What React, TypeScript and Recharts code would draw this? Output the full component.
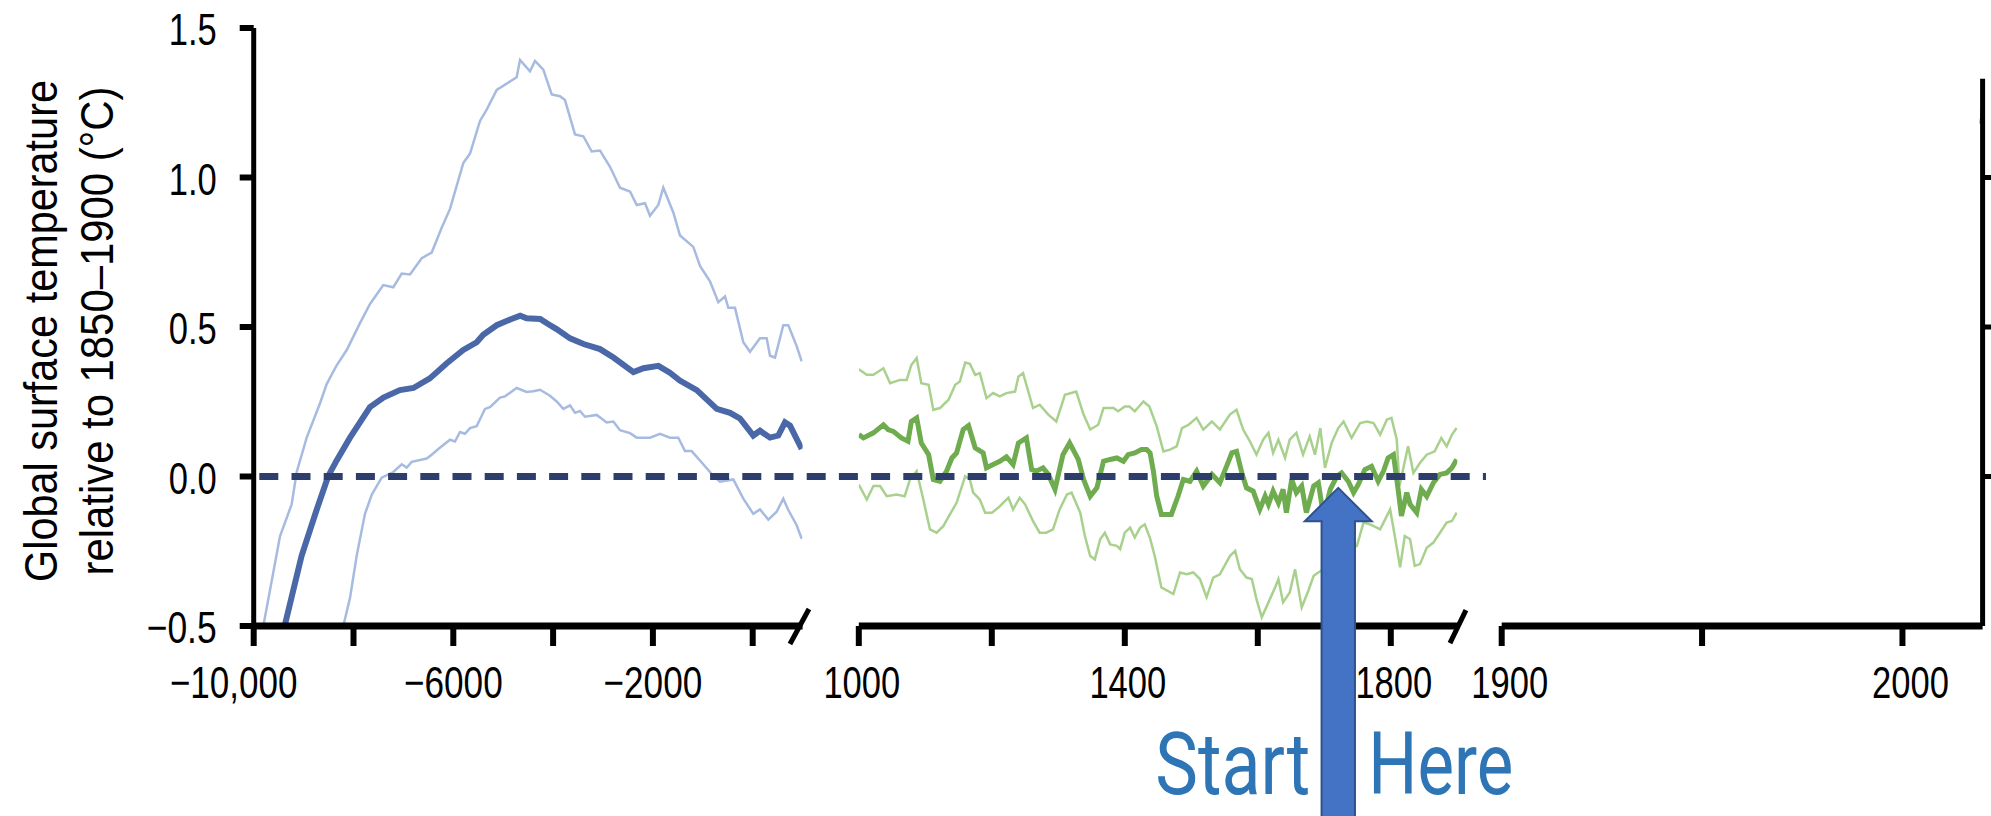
import React from 'react';
import { LineChart, Line, XAxis, YAxis, ReferenceLine, ReferenceDot } from 'recharts';

// Holocene reconstruction (blue): central estimate and 5-95% range
const holoceneMeanYears = [
  -9380, -9040, -8740, -8505, -8340, -8070, -7670, -7400, -7070, -6800, -6470, -6130, -5800, -5530,
  -5400, -5130, -4860, -4660, -4530, -4260, -4060, -3930, -3660, -3390, -3060, -2790, -2390, -2190,
  -1890, -1660, -1460, -1120, -720, -455, -255, 12, 146, 347, 513, 647, 748, 982,
];
const holoceneMean = [
  -0.5, -0.265, -0.112, 0.002, 0.053, 0.13, 0.232, 0.264, 0.289, 0.296, 0.328, 0.379, 0.423, 0.449,
  0.474, 0.506, 0.525, 0.538, 0.529, 0.527, 0.506, 0.493, 0.462, 0.443, 0.426, 0.398, 0.349, 0.362,
  0.37, 0.347, 0.321, 0.289, 0.226, 0.213, 0.194, 0.137, 0.153, 0.13, 0.137, 0.181, 0.17, 0.092,
];

const holoceneUpperYears = [
  -9807, -9473, -9239, -9138, -8938, -8671, -8537, -8337, -8136, -7870, -7669, -7403, -7202, -7034,
  -6868, -6633, -6433, -6233, -6066, -5800, -5665, -5465, -5331, -5130, -4730, -4663, -4463, -4363,
  -4196, -4028, -3862, -3762, -3561, -3394, -3227, -3060, -2860, -2659, -2459, -2325, -2158, -2058,
  -1892, -1792, -1591, -1457, -1190, -1056, -856, -689, -555, -489, -355, -188, -54, 146, 280, 347,
  447, 613, 714, 881, 982,
];
const holoceneUpper = [
  -0.5, -0.2, -0.093, 0.015, 0.13, 0.245, 0.309, 0.372, 0.423, 0.513, 0.577, 0.64, 0.633, 0.679,
  0.676, 0.73, 0.749, 0.832, 0.895, 1.048, 1.08, 1.189, 1.227, 1.293, 1.335, 1.393, 1.355, 1.39,
  1.361, 1.278, 1.272, 1.259, 1.144, 1.138, 1.087, 1.09, 1.036, 0.966, 0.953, 0.908, 0.914, 0.872,
  0.908, 0.966, 0.883, 0.806, 0.768, 0.704, 0.653, 0.583, 0.602, 0.564, 0.564, 0.449, 0.417, 0.462,
  0.462, 0.404, 0.398, 0.506, 0.506, 0.436, 0.385,
];

const holoceneLowerYears = [
  -8204, -8070, -7936, -7770, -7635, -7435, -7202, -7034, -6934, -6834, -6533, -6433, -6300, -6066,
  -5966, -5866, -5766, -5665, -5533, -5365, -5265, -5064, -4963, -4730, -4530, -4396, -4262, -4062,
  -3928, -3795, -3661, -3561, -3461, -3361, -3126, -2926, -2793, -2659, -2459, -2325, -2058, -1858,
  -1658, -1491, -1357, -1224, -991, -790, -656, -389, -188, 12, 146, 313, 480, 613, 714, 881, 982,
];
const holoceneLower = [
  -0.5, -0.406, -0.265, -0.125, -0.061, -0.004, 0.015, 0.041, 0.03, 0.049, 0.06, 0.073, 0.092, 0.123,
  0.117, 0.149, 0.143, 0.162, 0.168, 0.226, 0.232, 0.264, 0.268, 0.296, 0.283, 0.285, 0.29, 0.27,
  0.251, 0.226, 0.238, 0.213, 0.219, 0.2, 0.206, 0.181, 0.184, 0.155, 0.145, 0.13, 0.13, 0.143,
  0.13, 0.13, 0.085, 0.085, 0.041, 0.002, -0.017, -0.01, -0.074, -0.125, -0.11, -0.144, -0.118,
  -0.074, -0.112, -0.163, -0.208,
];

// Last millennium reconstruction (green), 1000–1900
const millenniumMeanYears = [
  1000, 1007, 1022, 1037, 1044, 1052, 1064, 1074, 1079, 1087, 1094, 1105, 1112, 1122, 1132, 1140,
  1147, 1157, 1165, 1175, 1187, 1192, 1202, 1212, 1222, 1232, 1240, 1252, 1260, 1267, 1277, 1285,
  1295, 1307, 1317, 1330, 1338, 1348, 1358, 1368, 1378, 1388, 1398, 1405, 1415, 1425, 1433, 1438,
  1443, 1448, 1455, 1470, 1480, 1488, 1498, 1508, 1518, 1531, 1543, 1553, 1561, 1568, 1576, 1583,
  1593, 1603, 1611, 1616, 1623, 1631, 1638, 1643, 1651, 1658, 1666, 1673, 1684, 1691, 1699, 1709,
  1719, 1726, 1736, 1744, 1751, 1761, 1771, 1781, 1789, 1796, 1804, 1811, 1816, 1824, 1829, 1839,
  1846, 1854, 1864, 1874, 1884, 1892, 1899,
];
const millenniumMean = [
  0.14, 0.129, 0.146, 0.173, 0.157, 0.151, 0.129, 0.118, 0.184, 0.196, 0.112, 0.073, -0.01, -0.016,
  0.018, 0.062, 0.079, 0.157, 0.17, 0.096, 0.079, 0.029, 0.04, 0.051, 0.066, 0.04, 0.112, 0.129,
  0.023, 0.018, 0.029, 0.007, -0.043, 0.073, 0.112, 0.057, -0.01, -0.066, -0.038, 0.051, 0.057,
  0.062, 0.051, 0.073, 0.079, 0.09, 0.09, 0.079, 0.018, -0.066, -0.127, -0.127, -0.066, -0.01,
  -0.016, 0.018, -0.032, 0.007, -0.021, 0.034, 0.079, 0.084, 0.012, -0.038, -0.049, -0.11, -0.066,
  -0.093, -0.049, -0.088, -0.043, -0.121, -0.01, -0.054, -0.032, -0.121, -0.032, -0.021, -0.132,
  -0.043, 0.001, 0.012, -0.016, -0.054, -0.027, 0.023, 0.034, -0.016, 0.018, 0.062, 0.073, -0.043,
  -0.132, -0.054, -0.093, -0.121, -0.043, -0.066, -0.021, 0.007, 0.012, 0.029, 0.057,
];

const millenniumUpperYears = [
  1000, 1012, 1022, 1037, 1047, 1062, 1072, 1079, 1087, 1094, 1105, 1112, 1122, 1135, 1145, 1152,
  1160, 1167, 1175, 1182, 1192, 1202, 1212, 1222, 1235, 1240, 1247, 1262, 1272, 1285, 1297, 1310,
  1327, 1338, 1348, 1360, 1368, 1383, 1390, 1400, 1407, 1415, 1428, 1437, 1448, 1458, 1468, 1478,
  1486, 1496, 1508, 1518, 1531, 1543, 1558, 1568, 1578, 1588, 1598, 1608, 1616, 1623, 1631, 1641,
  1648, 1658, 1668, 1678, 1686, 1694, 1701, 1711, 1721, 1729, 1741, 1754, 1764, 1774, 1784, 1794,
  1801, 1809, 1813, 1819, 1826, 1834, 1844, 1854, 1866, 1876, 1884, 1892, 1899,
];
const millenniumUpper = [
  0.359, 0.34, 0.34, 0.362, 0.312, 0.323, 0.323, 0.373, 0.396, 0.312, 0.307, 0.223, 0.229, 0.257,
  0.307, 0.318, 0.381, 0.377, 0.34, 0.346, 0.262, 0.279, 0.268, 0.279, 0.284, 0.334, 0.346, 0.229,
  0.24, 0.207, 0.184, 0.273, 0.284, 0.207, 0.157, 0.173, 0.229, 0.229, 0.218, 0.234, 0.234, 0.218,
  0.251, 0.234, 0.168, 0.084, 0.09, 0.101, 0.162, 0.173, 0.196, 0.157, 0.184, 0.157, 0.207, 0.223,
  0.157, 0.118, 0.073, 0.123, 0.146, 0.079, 0.123, 0.062, 0.123, 0.146, 0.073, 0.134, 0.073, 0.162,
  0.029, 0.112, 0.162, 0.184, 0.129, 0.179, 0.184, 0.179, 0.14, 0.19, 0.196, 0.123, -0.032, 0.029,
  0.101, 0.012, 0.046, 0.073, 0.084, 0.129, 0.101, 0.14, 0.162,
];

const millenniumLowerYears = [
  1000, 1012, 1022, 1032, 1042, 1057, 1069, 1077, 1087, 1097, 1107, 1117, 1127, 1137, 1147, 1160,
  1167, 1172, 1182, 1190, 1200, 1210, 1217, 1225, 1232, 1242, 1250, 1262, 1272, 1282, 1292, 1302,
  1313, 1320, 1333, 1340, 1348, 1355, 1363, 1370, 1378, 1388, 1393, 1400, 1408, 1415, 1423, 1430,
  1438, 1445, 1455, 1473, 1483, 1493, 1503, 1513, 1523, 1533, 1543, 1558, 1566, 1573, 1583, 1591,
  1598, 1606, 1616, 1626, 1631, 1638, 1648, 1656, 1666, 1676, 1684, 1691, 1699, 1720, 1735, 1749,
  1759, 1769, 1784, 1799, 1806, 1814, 1821, 1829, 1836, 1844, 1854, 1864, 1874, 1884, 1892, 1899,
];
const millenniumLower = [
  -0.027, -0.077, -0.032, -0.032, -0.066, -0.06, -0.066, -0.01, 0.018, -0.077, -0.177, -0.188,
  -0.166, -0.127, -0.088, 0.001, -0.01, -0.054, -0.077, -0.121, -0.121, -0.104, -0.088, -0.071,
  -0.11, -0.071, -0.093, -0.149, -0.188, -0.188, -0.177, -0.11, -0.06, -0.054, -0.121, -0.199,
  -0.266, -0.277, -0.21, -0.188, -0.227, -0.232, -0.243, -0.188, -0.171, -0.204, -0.171, -0.16,
  -0.207, -0.266, -0.371, -0.393, -0.321, -0.327, -0.321, -0.343, -0.404, -0.338, -0.327, -0.266,
  -0.249, -0.31, -0.338, -0.343, -0.41, -0.471, -0.421, -0.371, -0.343, -0.421, -0.388, -0.31,
  -0.438, -0.382, -0.332, -0.321, -0.31, -0.28, -0.25, -0.232, -0.154, -0.16, -0.177, -0.11, -0.199,
  -0.304, -0.199, -0.21, -0.299, -0.293, -0.238, -0.221, -0.188, -0.154, -0.149, -0.121,
];

// the only bit of the modern series visible at the right edge
const recentYears = [2019.6, 2020];
const recent = [1.18, 1.25];

const yTicks = [-0.5, 0, 0.5, 1.0, 1.5];
const yTickLabels: Record<string, string> = { '-0.5': '\u22120.5', '0': '0.0', '0.5': '0.5', '1': '1.0', '1.5': '1.5' };
const holoceneTicks = [-10000, -8000, -6000, -4000, -2000, 0];
const holoceneTickLabels: Record<string, string> = { '-10000': '\u221210,000', '-6000': '\u22126000', '-2000': '\u22122000' };
const millenniumTicks = [1000, 1200, 1400, 1600, 1800];
const millenniumTickLabels: Record<string, string> = { '1000': '1000', '1400': '1400', '1800': '1800' };
const modernTicks = [1900, 1950, 2000];
const modernTickLabels: Record<string, string> = { '1900': '1900', '2000': '2000' };

const TICK_FONT = "'Liberation Sans Narrow', 'Liberation Sans', Arial, sans-serif";
const TITLE_FONT = "'Liberation Sans', Arial, sans-serif";
const BLUE = '#4a68a8';
const BLUE_LIGHT = '#a7bbe0';
const GREEN = '#6fab4f';
const GREEN_LIGHT = '#a9d18e';
const NAVY = '#2d3e6c';

function toPoints(years: number[], values: number[]) {
  return years.map((year, i) => ({ year, value: values[i] }));
}

const charW: Record<string, number> = { '.': 9.6, ',': 9.6, '\u2212': 22 };
function labelWidth(s: string) {
  return Array.from(s).reduce((w, c) => w + (charW[c] ?? 19.2), 0);
}

function makeXTick(labels: Record<string, string>, shift: Record<string, number> = {}, dx = 0) {
  return (props: any) => {
    const { x, y, payload } = props;
    const text = labels[String(payload.value)];
    if (!text) return <g />;
    return (
      <text
        x={x + dx + (shift[String(payload.value)] ?? 0)}
        y={y}
        dy={32}
        textAnchor="middle"
        fontSize={45}
        fontFamily={TICK_FONT}
        fill="#000"
        textLength={labelWidth(text)}
        lengthAdjust="spacingAndGlyphs"
      >
        {text}
      </text>
    );
  };
}

function YTick(props: any) {
  const { x, y, payload } = props;
  const text = yTickLabels[String(payload.value)];
  return (
    <text x={x} y={y} dy={17} textAnchor="end" fontSize={45} fontFamily={TICK_FONT} fill="#000"
      textLength={labelWidth(text)} lengthAdjust="spacingAndGlyphs">
      {text}
    </text>
  );
}

function YTitle() {
  return (
    <g fontFamily={TITLE_FONT} fontSize={46} fill="#000">
      <text x={57} y={331} transform="rotate(-90, 57, 331)" textAnchor="middle"
        textLength={502} lengthAdjust="spacingAndGlyphs">
        Global surface temperature
      </text>
      <text x={113} y={331} transform="rotate(-90, 113, 331)" textAnchor="middle"
        textLength={489} lengthAdjust="spacingAndGlyphs">
        relative to 1850–1900 (°C)
      </text>
    </g>
  );
}

function StartHere(props: any) {
  const { cx, cy } = props;
  const arrow = [
    [cx, cy], [cx + 33.5, cy + 33.5], [cx + 16.7, cy + 33.5], [cx + 16.7, cy + 340],
    [cx - 16.7, cy + 340], [cx - 16.7, cy + 33.5], [cx - 33.5, cy + 33.5],
  ].map((p) => p.join(',')).join(' ');
  return (
    <g>
      <polygon points={arrow} fill="#4472c4" stroke="#2f528f" strokeWidth={2} />
      <g fontFamily="Roboto, 'Liberation Sans Narrow', sans-serif" fontSize={87} fill="#2e75b6">
        <text x={cx - 28} y={cy + 306} textAnchor="end" textLength={155} lengthAdjust="spacingAndGlyphs">Start</text>
        <text x={cx + 30} y={cy + 306} textAnchor="start" textLength={145} lengthAdjust="spacingAndGlyphs">Here</text>
      </g>
    </g>
  );
}

const W = 1991;
const H = 816;
const PLOT_TOP = 28;
const PLOT_BOTTOM = 626;
const X_AXIS_H = 100;
const marginBottom = H - PLOT_BOTTOM - X_AXIS_H;

const axisProps = {
  stroke: '#000',
};

export default function App() {
  return (
    <div style={{ position: 'relative', width: W, height: H, background: '#fff', overflow: 'hidden' }}>
      <style>{'body { margin: 0; }'}</style>

      {/* Instrumental period panel */}
      <div style={{ position: 'absolute', left: 1420, top: 0 }}>
        <LineChart width={571} height={H} margin={{ top: PLOT_TOP, right: 0, bottom: marginBottom, left: 81.7 }}>
          <XAxis dataKey="year" type="number" domain={[1900, 2020]} allowDataOverflow ticks={modernTicks}
            interval={0} height={X_AXIS_H} tickSize={20} tickMargin={20}
            axisLine={{ ...axisProps, strokeWidth: 7 }} tickLine={{ ...axisProps, strokeWidth: 6 }}
            tick={makeXTick(modernTickLabels, {}, 8)} />
          <YAxis orientation="right" type="number" domain={[-0.5, 1.5]} allowDataOverflow ticks={[0, 0.5, 1.0]}
            interval={0} width={8.4} tickSize={15} axisLine={false} tickLine={{ ...axisProps, strokeWidth: 5 }}
            tick={() => <g />} />
          <Line data={toPoints(recentYears, recent)} dataKey="value" stroke="#7a5fa0" strokeWidth={3}
            dot={false} activeDot={false} isAnimationActive={false} />
          <ReferenceLine segment={[{ x: 2020, y: -0.5 }, { x: 2020, y: 1.33 }]} stroke="#000" strokeWidth={5}
            ifOverflow="visible" />
        </LineChart>
      </div>

      {/* Last millennium panel (wide SVG so the annotation text has room) */}
      <div style={{ position: 'absolute', left: 780, top: 0, pointerEvents: 'none' }}>
        <LineChart width={900} height={H} margin={{ top: PLOT_TOP, right: 222.7, bottom: marginBottom, left: 78.8 }}>
          <XAxis dataKey="year" type="number" domain={[1000, 1900]} allowDataOverflow ticks={millenniumTicks}
            interval={0} height={X_AXIS_H} tickSize={20} tickMargin={20}
            axisLine={{ ...axisProps, strokeWidth: 7 }} tickLine={{ ...axisProps, strokeWidth: 6 }}
            tick={makeXTick(millenniumTickLabels, {}, 3)} />
          <YAxis hide type="number" domain={[-0.5, 1.5]} allowDataOverflow />
          <Line data={toPoints(millenniumUpperYears, millenniumUpper)} dataKey="value" stroke={GREEN_LIGHT} strokeWidth={2.5}
            dot={false} activeDot={false} isAnimationActive={false} />
          <Line data={toPoints(millenniumLowerYears, millenniumLower)} dataKey="value" stroke={GREEN_LIGHT} strokeWidth={2.5}
            dot={false} activeDot={false} isAnimationActive={false} />
          <Line data={toPoints(millenniumMeanYears, millenniumMean)} dataKey="value" stroke={GREEN} strokeWidth={5}
            dot={false} activeDot={false} isAnimationActive={false} />
          <ReferenceLine segment={[{ x: 1889, y: -0.557 }, { x: 1913, y: -0.447 }]} stroke="#000" strokeWidth={5}
            ifOverflow="visible" />
          <ReferenceDot x={1721} y={-0.038} ifOverflow="visible" shape={StartHere} />
        </LineChart>
      </div>

      {/* Holocene panel, full-width layer so its dashed 1850–1900 baseline runs on over the green panel */}
      <div style={{ position: 'absolute', left: 0, top: 0, pointerEvents: 'none' }}>
        <LineChart width={W} height={H} margin={{ top: PLOT_TOP, right: W - 802.6, bottom: marginBottom, left: 0 }}>
          <XAxis dataKey="year" type="number" domain={[-10000, 1000]} allowDataOverflow ticks={holoceneTicks}
            interval={0} height={X_AXIS_H} tickSize={20} tickMargin={20}
            axisLine={{ ...axisProps, strokeWidth: 7 }} tickLine={{ ...axisProps, strokeWidth: 6 }}
            tick={makeXTick(holoceneTickLabels, { '-10000': -20 })} />
          <YAxis type="number" domain={[-0.5, 1.5]} allowDataOverflow ticks={yTicks} interval={0} width={253.7}
            tickSize={14} tickMargin={23} axisLine={{ ...axisProps, strokeWidth: 5 }}
            tickLine={{ ...axisProps, strokeWidth: 6 }} tick={YTick} label={{ content: () => <YTitle /> }} />
          <Line data={toPoints(holoceneUpperYears, holoceneUpper)} dataKey="value" stroke={BLUE_LIGHT} strokeWidth={2.5}
            dot={false} activeDot={false} isAnimationActive={false} />
          <Line data={toPoints(holoceneLowerYears, holoceneLower)} dataKey="value" stroke={BLUE_LIGHT} strokeWidth={2.5}
            dot={false} activeDot={false} isAnimationActive={false} />
          <Line data={toPoints(holoceneMeanYears, holoceneMean)} dataKey="value" stroke={BLUE} strokeWidth={6}
            dot={false} activeDot={false} isAnimationActive={false} />
          <ReferenceLine segment={[{ x: 747, y: -0.56 }, { x: 1127, y: -0.443 }]} stroke="#000" strokeWidth={5}
            ifOverflow="visible" />
          <ReferenceLine segment={[{ x: -10000, y: 0 }, { x: 14695, y: 0 }]} stroke={NAVY} strokeWidth={7}
            strokeDasharray="19 13.2" strokeDashoffset={26.6} ifOverflow="visible" />
        </LineChart>
      </div>
    </div>
  );
}
